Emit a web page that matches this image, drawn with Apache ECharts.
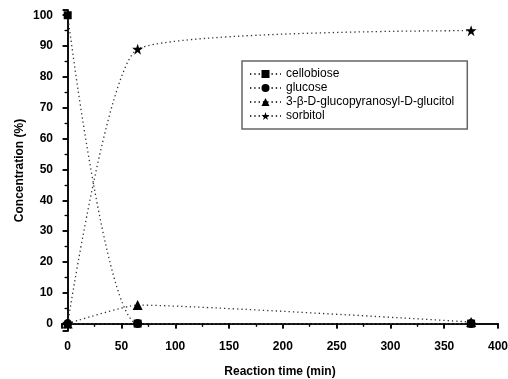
<!DOCTYPE html>
<html>
<head>
<meta charset="utf-8">
<script src="https://cdn.jsdelivr.net/npm/echarts@6/dist/echarts.min.js"></script>
<style>
html,body{margin:0;padding:0;background:#fff;}
#chart{width:508px;height:379px;}
</style>
</head>
<body>
<div id="chart"></div>
<script>
var times = [0, 65, 375];
var cellobiose = [100, 0, 0];
var glucose = [0, 0, 0];
var glucitol = [0, 6, 0.5];
var sorbitol = [0, 89, 95];
var seriesNames = ['cellobiose', 'glucose', '3-\u03B2-D-glucopyranosyl-D-glucitol', 'sorbitol'];

var STAR = 'path://M50,0 L61.8,35.1 L98.9,35.1 L68.9,57.3 L80.2,92.7 L50,70.8 L19.8,92.7 L31.1,57.3 L1.1,35.1 L38.2,35.1 Z';
var FONT = '"Liberation Sans", Arial, sans-serif';

function pairs(ys) { return times.map(function (t, i) { return [t, ys[i]]; }); }

function mkSeries(name, ys, symbol, size) {
  return {
    name: name, type: 'line', data: pairs(ys),
    smooth: 0.16,
    symbol: symbol, symbolSize: size,
    itemStyle: { color: '#000' },
    lineStyle: { color: '#333', width: 1.3, type: [1.3, 3] },
    emphasis: { disabled: true }
  };
}

var xMin = -5.3, xMax = 400, yMin = -2.4, yMax = 101.7;
var chart = echarts.init(document.getElementById('chart'));
var axisLineStyle = { color: '#000', width: 1.5 };
var minorStyle = { color: '#000', width: 1.2 };
chart.setOption({
  animation: false,
  grid: { left: 62, right: 10, top: 10, bottom: 48, containLabel: false, outerBoundsMode: 'none' },
  legend: {
    orient: 'vertical', left: 242, top: 61,
    itemWidth: 31, itemHeight: 10, itemGap: 2,
    padding: [7, 13, 7, 7],
    borderColor: '#666', borderWidth: 1.5,
    textStyle: { fontFamily: FONT, fontSize: 12, lineHeight: 12, color: '#000' },
    data: seriesNames
  },
  xAxis: [{
    type: 'value', min: xMin, max: xMax, splitNumber: 8,
    name: 'Reaction time (min)', nameLocation: 'middle', nameGap: 35, nameMoveOverlap: false,
    nameTextStyle: { fontFamily: FONT, fontSize: 12, fontWeight: 'bold', color: '#000' },
    axisLine: { show: true, lineStyle: axisLineStyle },
    axisTick: { show: true, inside: false, length: 5, lineStyle: axisLineStyle },
    minorTick: { show: true, splitNumber: 2, length: 3, lineStyle: minorStyle },
    splitLine: { show: false },
    axisLabel: { margin: 10, fontFamily: FONT, fontSize: 12, fontWeight: 'bold', color: '#000',
      formatter: function (v) { return (Math.abs(v % 50) < 1e-6) ? String(v) : ''; } }
  }, {
    type: 'value', position: 'top', min: xMin, max: xMax, splitNumber: 8,
    axisLine: { show: true, lineStyle: axisLineStyle },
    axisTick: { show: true, inside: true, length: 5, lineStyle: axisLineStyle },
    minorTick: { show: true, splitNumber: 2, length: 3, lineStyle: minorStyle },
    splitLine: { show: false }, axisLabel: { show: false }
  }],
  yAxis: [{
    type: 'value', min: yMin, max: yMax, splitNumber: 10,
    name: 'Concentration (%)', nameLocation: 'middle', nameGap: 36, nameMoveOverlap: false,
    nameTextStyle: { fontFamily: FONT, fontSize: 12, fontWeight: 'bold', color: '#000' },
    axisLine: { show: true, lineStyle: axisLineStyle },
    axisTick: { show: true, inside: false, length: 5, lineStyle: axisLineStyle },
    minorTick: { show: true, splitNumber: 2, length: 3, lineStyle: minorStyle },
    splitLine: { show: false },
    axisLabel: { margin: 9, fontFamily: FONT, fontSize: 12, fontWeight: 'bold', color: '#000',
      formatter: function (v) { return (Math.abs(v % 10) < 1e-6) ? String(v) : ''; } }
  }, {
    type: 'value', position: 'right', min: yMin, max: yMax, splitNumber: 10,
    axisLine: { show: true, lineStyle: axisLineStyle },
    axisTick: { show: true, inside: true, length: 5, lineStyle: axisLineStyle },
    minorTick: { show: true, splitNumber: 2, length: 3, lineStyle: minorStyle },
    splitLine: { show: false }, axisLabel: { show: false }
  }],
  series: [
    mkSeries(seriesNames[0], cellobiose, 'rect', 8),
    mkSeries(seriesNames[1], glucose, 'circle', 9),
    mkSeries(seriesNames[2], glucitol, 'triangle', 10),
    mkSeries(seriesNames[3], sorbitol, STAR, 11)
  ]
});
</script>
</body>
</html>
